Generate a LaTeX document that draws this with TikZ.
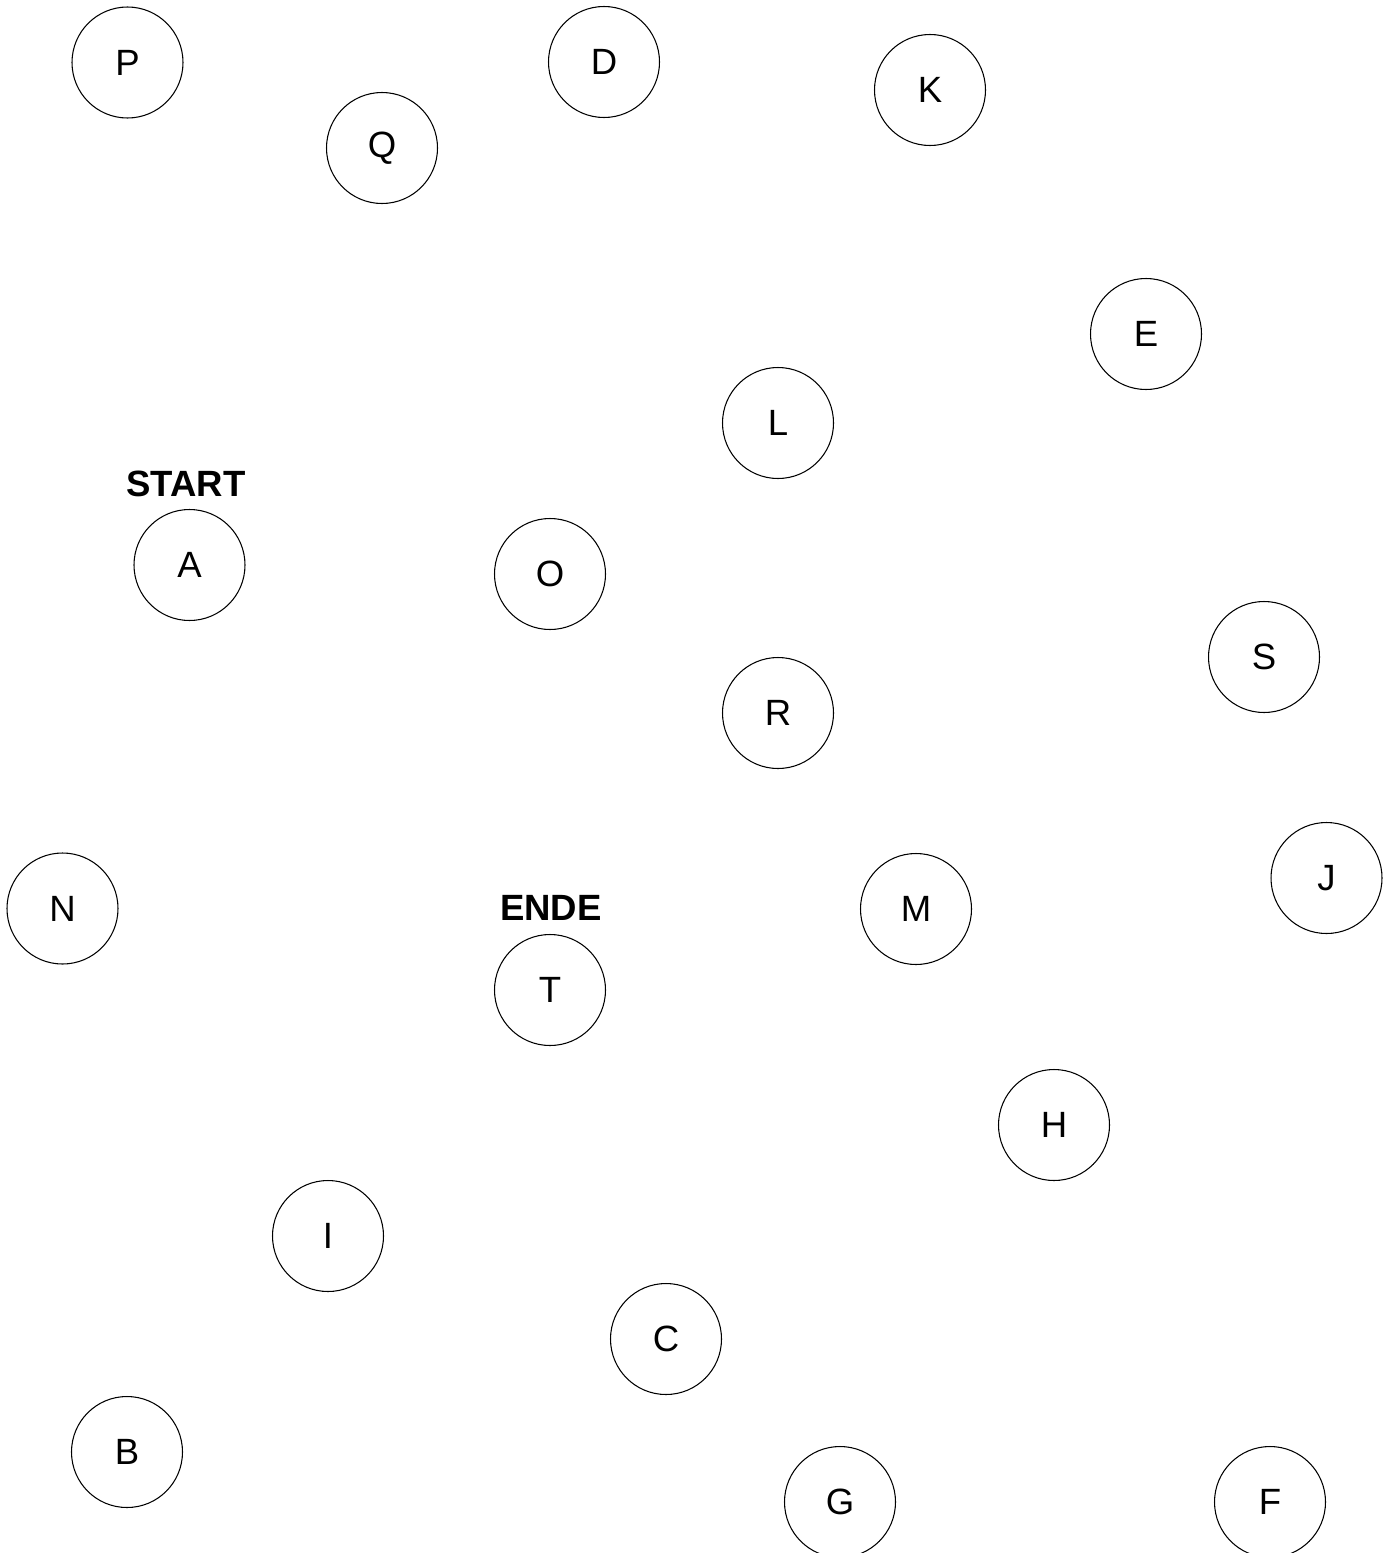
\documentclass[tikz,border=0pt]{standalone}
\usepackage{fontspec}
\setmainfont{Liberation Sans}
\usepackage{tikz}
\usetikzlibrary{positioning}

\begin{document}
\begin{tikzpicture}[
    state/.style={draw=black, line width=0.3pt, circle, minimum size=1.11cm, inner sep=0pt, font=\fontsize{10.4}{12}\selectfont},
    marker/.style={font=\fontsize{10.4}{12}\selectfont\bfseries, inner sep=0pt}
]

% page frame
\useasboundingbox (0,0) rectangle (13.91,-15.53);
\clip (0,0) rectangle (13.91,-15.53);

% top row
\node[state] (P) at (1.275, -0.625) {P};
\node[state] (D) at (6.04, -0.62) {D};
\node[state] (K) at (9.30, -0.90) {K};
\node[state] (Q) at (3.82, -1.48) {Q};

% upper middle
\node[state] (E) at (11.46, -3.34) {E};
\node[state] (L) at (7.78, -4.23) {L};
\node[state] (A) at (1.895, -5.65) {A};
\node[marker] (start) at (1.86, -4.84) {START};
\node[state] (O) at (5.50, -5.74) {O};
\node[state] (S) at (12.64, -6.57) {S};
\node[state] (R) at (7.78, -7.13) {R};

% middle
\node[state] (J) at (13.265, -8.78) {J};
\node[state] (N) at (0.625, -9.085) {N};
\node[state] (M) at (9.16, -9.09) {M};
\node[state] (T) at (5.50, -9.90) {T};
\node[marker] (ende) at (5.51, -9.08) {ENDE};

% lower part
\node[state] (H) at (10.54, -11.25) {H};
\node[state] (I) at (3.28, -12.36) {I};
\node[state] (C) at (6.66, -13.39) {C};
\node[state] (B) at (1.27, -14.52) {B};
\node[state] (G) at (8.40, -15.02) {G};
\node[state] (F) at (12.70, -15.02) {F};

\end{tikzpicture}
\end{document}
